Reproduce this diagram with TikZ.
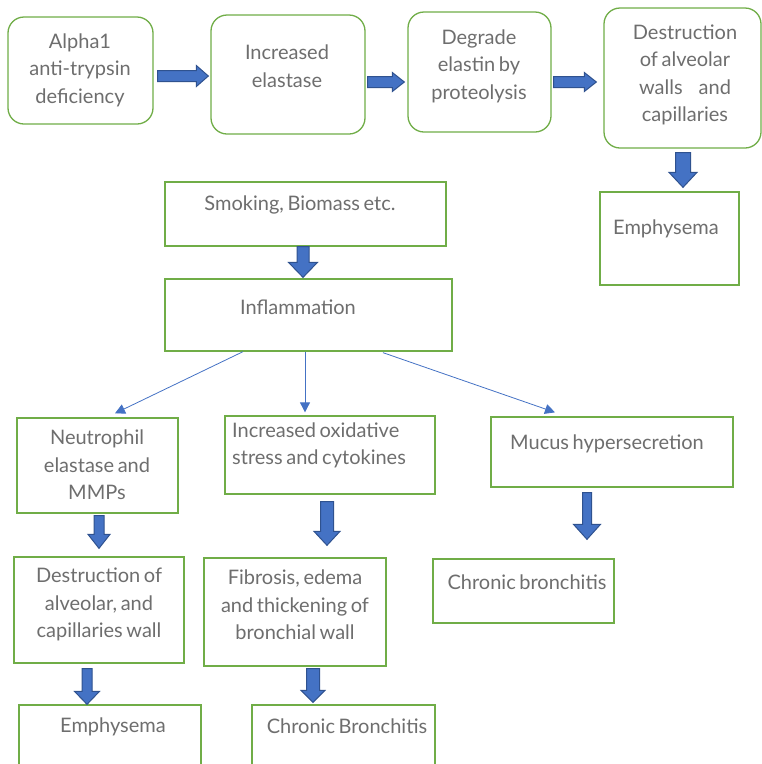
\documentclass[tikz,border=0pt]{standalone}
\usepackage{fontspec}
\setmainfont[WordSpace=0.7]{Lato}
\usetikzlibrary{arrows.meta,calc}
\definecolor{boxgreen}{HTML}{70AD47}
\definecolor{arrowblue}{HTML}{4472C4}
\definecolor{arrowedge}{HTML}{2F528F}
\definecolor{txtgray}{HTML}{6E6E6E}
\tikzset{
  box/.style={draw=boxgreen, line width=1.3pt, fill=white, inner sep=0pt},
  rbox/.style={box, rounded corners=16pt},
  txt/.style={text=txtgray, font=\fontsize{20}{27.5}\selectfont, align=center, inner sep=0pt},
  thinarrow/.style={draw=arrowblue, line width=0.8pt, -{Triangle[length=10pt,width=10pt]}},
  % block arrow: #1 shaft half-width, #2 head half-width, #3 head length (pt)
  blockarrow/.style n args={3}{fill=arrowblue, draw=arrowedge, line width=1pt, line join=miter,
    to path={let \p1=(\tikztostart), \p2=(\tikztotarget),
      \n1={atan2(\y2-\y1,\x2-\x1)}, \n2={veclen(\x2-\x1,\y2-\y1)} in
      [shift={(\p1)}, rotate=\n1]
      (0pt,#1) -- ({(\n2-#3)*1pt},#1) -- ({(\n2-#3)*1pt},#2) -- ({\n2*1pt},0pt)
      -- ({(\n2-#3)*1pt},-#2) -- ({(\n2-#3)*1pt},-#1) -- (0pt,-#1) -- cycle}},
}
\begin{document}
\begin{tikzpicture}[x=1pt,y=-1pt]
\useasboundingbox (0,0) rectangle (762,764);
\clip (0,0) rectangle (762,764);

% top row: alpha-1 antitrypsin pathway
\node[rbox, minimum width=145pt, minimum height=107pt] (A) at (80.5,70.5) {};
\node[txt] (At) at (80,70) {Alpha1\\anti-trypsin\\deficiency};
\node[rbox, minimum width=154pt, minimum height=119pt] (B) at (288,74.5) {};
\node[txt] (Bt) at (287,66) {Increased\\elastase};
\node[rbox, minimum width=143pt, minimum height=120pt] (C) at (479.5,72) {};
\node[txt] (Ct) at (479,66) {Degrade\\elastin by\\proteolysis};
\node[rbox, minimum width=157pt, minimum height=140pt] (D) at (682.5,78) {};
\node[txt] (Dt) at (685,75) {Destruction\\of alveolar\\walls\hspace{16pt}and\\capillaries};
\node[box, minimum width=139pt, minimum height=93pt] (E1) at (669.5,238.5) {};
\node[txt] (E1t) at (666,229) {Emphysema};

% smoking / inflammation pathway
\node[box, minimum width=281pt, minimum height=64pt] (S) at (305.5,214) {};
\node[txt] (St) at (300,205) {Smoking, Biomass etc.};
\node[box, minimum width=287pt, minimum height=72pt] (I) at (308.5,315) {};
\node[txt] (It) at (298,307) {Inflammation};

\node[box, minimum width=161pt, minimum height=95pt] (N) at (97.5,465.5) {};
\node[txt] (Nt) at (97,465) {Neutrophil\\elastase and\\MMPs};
\node[box, minimum width=210pt, minimum height=78pt] (O) at (330,455) {};
\node[txt, align=left, anchor=west] (Ot) at (232,445.5) {Increased oxidative\\stress and cytokines};
\node[box, minimum width=242pt, minimum height=70pt] (M) at (612,452) {};
\node[txt] (Mt) at (607,444) {Mucus hypersecretion};

\node[box, minimum width=170pt, minimum height=106pt] (DA) at (99,610) {};
\node[txt] (DAt) at (99,604.5) {Destruction of\\alveolar, and\\capillaries wall};
\node[box, minimum width=182pt, minimum height=108pt] (F) at (295,612) {};
\node[txt] (Ft) at (295,605) {Fibrosis, edema\\and thickening of\\bronchial wall};
\node[box, minimum width=181pt, minimum height=64pt] (CB1) at (523.5,591) {};
\node[txt] (CB1t) at (527,582) {Chronic bronchitis};

\node[box, minimum width=182pt, minimum height=85pt] (E2) at (110,747.5) {};
\node[txt] (E2t) at (113,727) {Emphysema};
\node[box, minimum width=183pt, minimum height=85pt] (CB2) at (343.5,747.5) {};
\node[txt] (CB2t) at (347,726) {Chronic Bronchitis};

% block arrows
\draw[blockarrow={5.5pt}{10.5pt}{12}] ($(A.east)+(4,5.5)$) to ($(B.west)+(-2,1.5)$);
\draw[blockarrow={5.5pt}{9.5pt}{12}] ($(B.east)+(2,7.5)$) to ($(C.west)+(-3,10)$);
\draw[blockarrow={5.5pt}{9.5pt}{12}] ($(C.east)+(2,10)$) to ($(D.west)+(-7,4)$);
\draw[blockarrow={7.5pt}{14pt}{15}] ($(D.south)+(0.5,4)$) to ($(E1.north)+(13.5,-4)$);
\draw[blockarrow={6pt}{14.5pt}{15}] ($(S.south)+(-2.5,0)$) to ($(I.north)+(-5.5,-1)$);
\draw[blockarrow={5pt}{11pt}{14}] ($(N.south)+(1.5,2)$) to ($(DA.north)+(0,-8)$);
\draw[blockarrow={6.5pt}{13pt}{14}] ($(O.south)+(-3,7)$) to ($(F.north)+(32,-12)$);
\draw[blockarrow={4.5pt}{13.5pt}{15}] ($(M.south)+(-25,5)$) to ($(CB1.north)+(63.5,-19)$);
\draw[blockarrow={5pt}{12.5pt}{13}] ($(DA.south)+(-12,5)$) to ($(E2.north)+(-23,0)$);
\draw[blockarrow={6.5pt}{12pt}{12}] ($(F.south)+(18,2)$) to ($(CB2.north)+(-30.5,-2)$);

% thin connectors from inflammation
\draw[thinarrow] ($(I.south)+(-65.5,0)$) -- ($(N.north)+(17.5,-4)$);
\draw[thinarrow] ($(I.south)+(-3.5,0)$) -- ($(O.north)+(-25,-3)$);
\draw[thinarrow] ($(I.south)+(74.5,1)$) -- ($(M.north)+(-57,-4)$);
\end{tikzpicture}
\end{document}
